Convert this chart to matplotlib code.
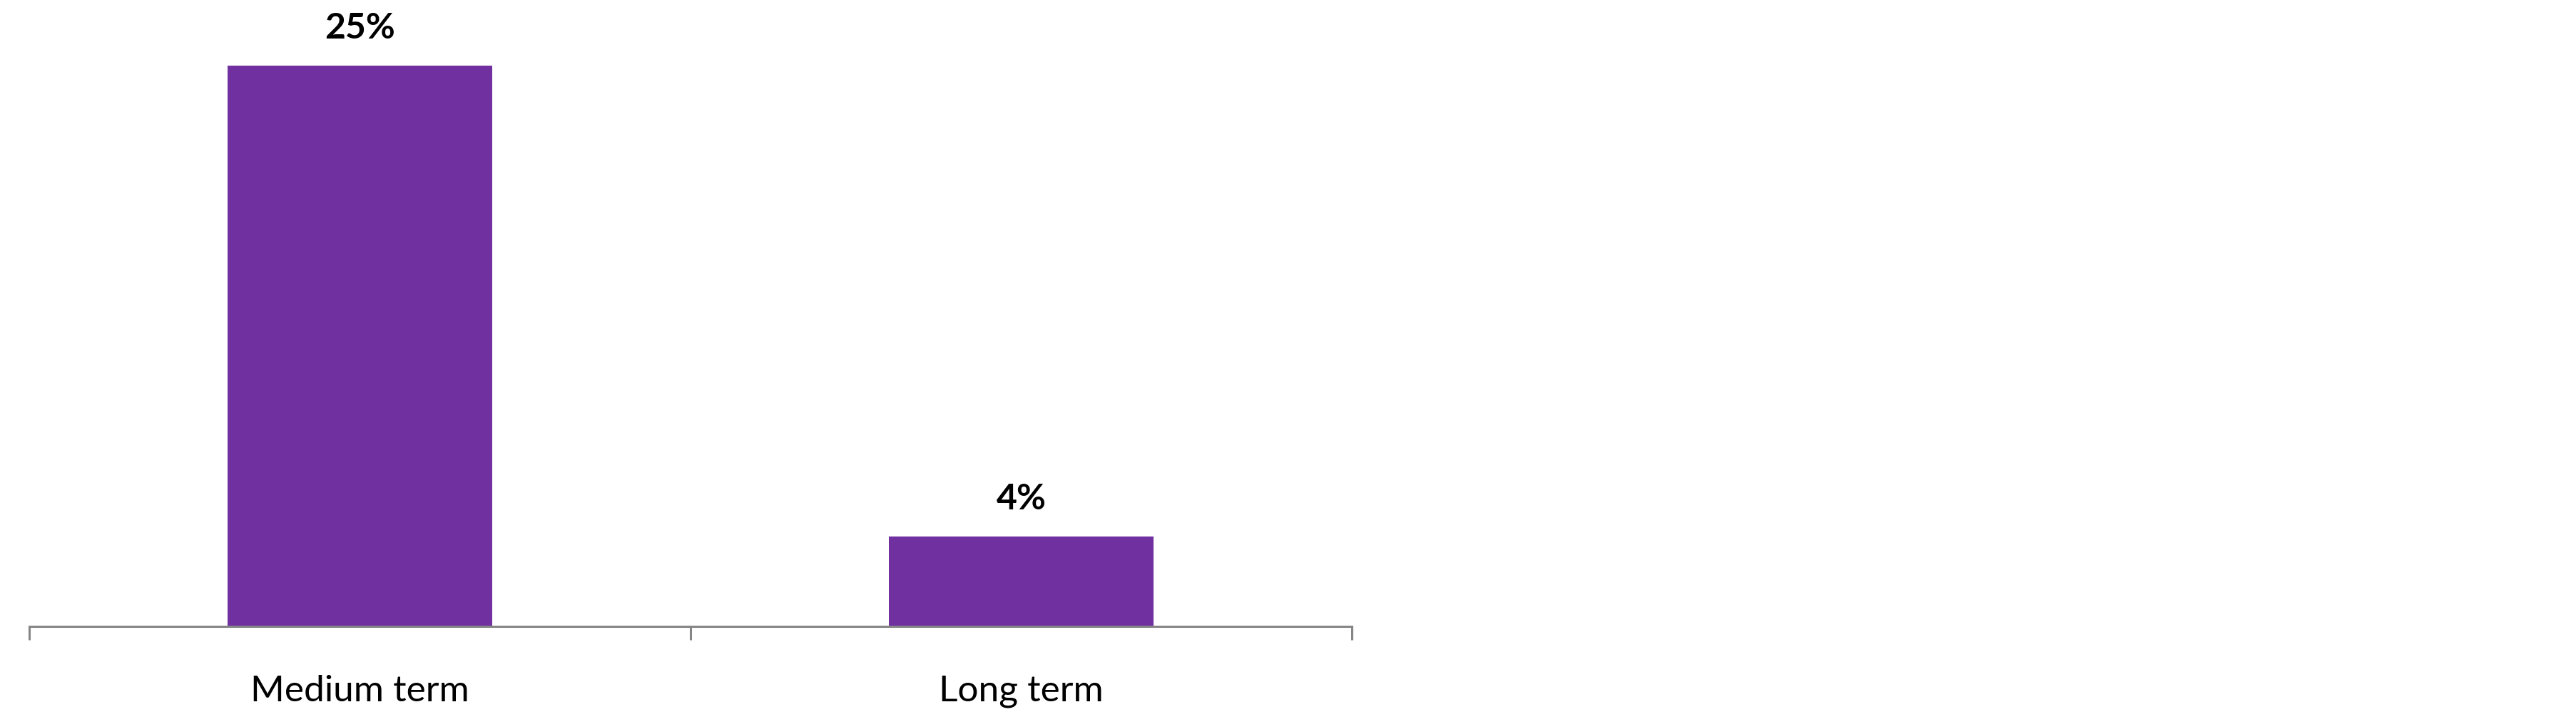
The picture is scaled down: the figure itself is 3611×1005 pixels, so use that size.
import matplotlib
matplotlib.use("Agg")
import matplotlib.pyplot as plt
from matplotlib.ticker import FixedLocator

categories = ["Medium term", "Long term"]
values = [25, 4]
labels = ["25%", "4%"]

bar_color = "#7030A0"
axis_color = "#868686"

W, H, DPI = 3612, 1005, 100
fig = plt.figure(figsize=(W / DPI, H / DPI), dpi=DPI)
fig.patch.set_facecolor("white")

x0, x1 = 41, 1895
y_axis = 878
ax = fig.add_axes([x0 / W, (H - y_axis) / H, (x1 - x0) / W, y_axis / H])

px_per_unit = (y_axis - 92) / 25.0
ax.set_ylim(0, y_axis / px_per_unit)
ax.set_xlim(-0.5, len(categories) - 0.5)

xs = list(range(len(categories)))
ax.bar(xs, values, width=0.4, color=bar_color, zorder=2)

for x, v, lab in zip(xs, values, labels):
    ax.annotate(lab, (x, v), xytext=(0, 27.4), textcoords="offset points",
                ha="center", va="baseline", fontsize=36, fontweight="bold",
                family="Lato", color="black")

for s in ["left", "right", "top"]:
    ax.spines[s].set_visible(False)
ax.spines["bottom"].set_color(axis_color)
ax.spines["bottom"].set_linewidth(2.2)
ax.spines["bottom"].set_zorder(3)

ax.set_yticks([])
ax.set_xticks(xs)
ax.set_xticklabels(categories, fontsize=37, family="Lato", color="black")
ax.tick_params(axis="x", which="major", length=0, pad=49)
ax.xaxis.set_minor_locator(FixedLocator([-0.5 + i for i in range(len(categories) + 1)]))
ax.tick_params(axis="x", which="minor", length=13.7, width=2.2, color=axis_color, direction="out")

fig.savefig("out.png", dpi=DPI, facecolor="white")
